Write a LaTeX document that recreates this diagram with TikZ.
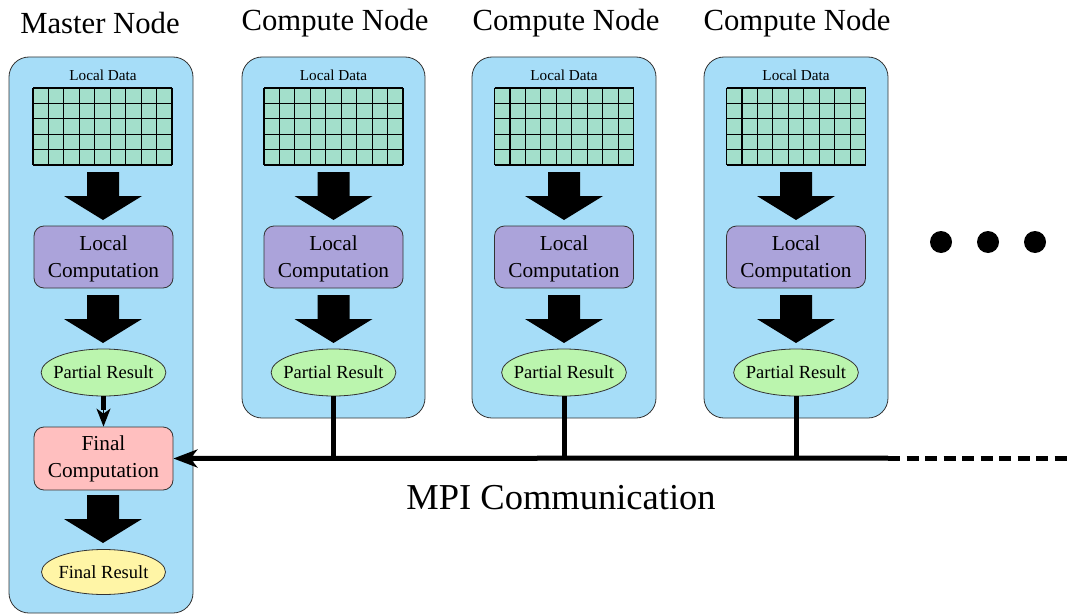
\documentclass[tikz,border=0pt]{standalone}
\usepackage{fontspec}
\setmainfont{Liberation Serif}
\usetikzlibrary{arrows.meta,shapes.geometric}
\definecolor{boxblue}{HTML}{A6DDF8}
\definecolor{gridgreen}{HTML}{A3DFCB}
\definecolor{compurple}{HTML}{ABA3DA}
\definecolor{partgreen}{HTML}{BBF5AE}
\definecolor{finpink}{HTML}{FFBFBF}
\definecolor{finyellow}{HTML}{FFF5A6}
\tikzset{
  colbox/.style={draw=black!80, line width=0.8pt, fill=boxblue, rounded corners=20pt},
  compbox/.style={draw=black!80, line width=0.8pt, rounded corners=10pt, minimum width=139pt, align=center, font=\fontsize{21.3}{27}\selectfont, inner sep=0pt},
  resell/.style={draw=black!80, line width=0.8pt, ellipse, inner ysep=0pt, font=\fontsize{18.5}{22}\selectfont},
  title/.style={font=\fontsize{30.7}{34}\selectfont, inner sep=0pt},
  smalllabel/.style={font=\fontsize{15.2}{18}\selectfont, inner sep=0pt},
  blockarrow/.style={fill=black, draw=none},
  mpi/.style={line width=5pt},
}
\newcommand{\myblockarrow}[2]{% center x, top y
  \fill[blockarrow] ({#1-16},{#2}) -- ({#1+16},{#2}) -- ({#1+16},{#2+24}) -- ({#1+39},{#2+24})
    -- ({#1},{#2+48}) -- ({#1-39},{#2+24}) -- ({#1-16},{#2+24}) -- cycle;}
\newcommand{\mygrid}[1]{% center x
  \fill[gridgreen] ({#1-69.5},88) rectangle ({#1+69.5},165);
  \foreach \i in {0,...,9} {\draw[line width=1.1pt] ({#1-69.5+\i*139/9},88) -- ({#1-69.5+\i*139/9},165);}
  \foreach \j in {0,...,5} {\draw[line width=1.1pt] ({#1-69.5},{88+\j*77/5}) -- ({#1+69.5},{88+\j*77/5});}
}
\begin{document}
\begin{tikzpicture}[x=1pt,y=-1pt]
\useasboundingbox (0,0) rectangle (1073,615);
% titles
\node[title] (tm) at (100,23) {Master Node};
\node[title] (t1) at (335,23) {Compute Node};
\node[title] (t2) at (566,23) {Compute Node};
\node[title] (t3) at (797,23) {Compute Node};
% column boxes
\draw[colbox] (9,57) rectangle (193,613);
\draw[colbox] (242,57) rectangle (425,418);
\draw[colbox] (472,57) rectangle (656,418);
\draw[colbox] (704,57) rectangle (888,418);
% master column
\node[smalllabel] (ldm) at (103,75) {Local Data};
\mygrid{102.5}
\myblockarrow{103}{172}
\node[compbox, fill=compurple, minimum height=62pt] (lcm) at (103.5,257) {\rule{0pt}{19pt}Local\\Computation};
\myblockarrow{103}{295}
\node[resell, fill=partgreen, inner xsep=-6pt, minimum width=124pt, minimum height=47pt] (prm) at (103.5,372.5) {Partial Result};
\node[compbox, fill=finpink, minimum height=63pt] (fcm) at (103.5,458.5) {Final\\Computation};
\myblockarrow{103}{495}
\node[resell, fill=finyellow, inner xsep=-1.5pt, minimum width=124pt, minimum height=45pt] (frm) at (103.5,572) {Final Result};
\draw[line width=4.5pt] (prm.south) -- ++(0,14);
\draw[line width=1.5pt, -{Stealth[length=18pt,width=14pt,inset=5pt]}] (prm.south) -- (fcm.north);
% compute columns
\foreach \cx/\n in {333.5/a, 564/b, 796/c} {
  \node[smalllabel] (ld\n) at (\cx,75) {Local Data};
  \mygrid{\cx}
  \myblockarrow{\cx}{172}
  \node[compbox, fill=compurple, minimum height=62pt] (lc\n) at (\cx,257) {\rule{0pt}{19pt}Local\\Computation};
  \myblockarrow{\cx}{295}
  \node[resell, fill=partgreen, inner xsep=-6pt, minimum width=124pt, minimum height=47pt] (pr\n) at (\cx,372.5) {Partial Result};
  \coordinate (bus\n) at (\cx,458);
  \draw[mpi] (pr\n.south) -- (bus\n);
}
% MPI bus
\coordinate (busend) at (888,458);
\coordinate (busdash) at (1073,458);
\draw[mpi, -{Stealth[length=24pt,width=18pt,inset=7pt]}] (busend) -- (fcm.east);
\draw[mpi, dash pattern=on 12pt off 6.5pt] (busend) -- (busdash);
\node[font=\fontsize{36.5}{42}\selectfont, inner sep=0pt] (mpilabel) at (561,498) {MPI Communication};
% dots
\fill (941,242) circle (11);
\fill (988,242) circle (11);
\fill (1035,242) circle (11);
\end{tikzpicture}
\end{document}
